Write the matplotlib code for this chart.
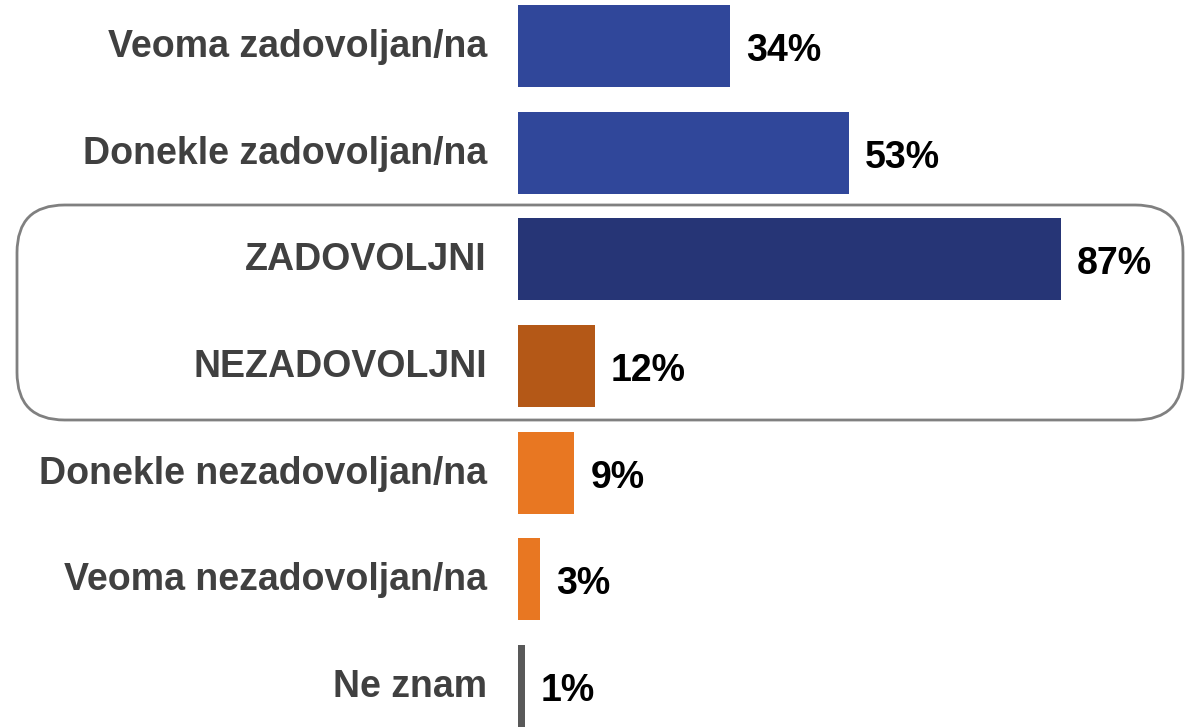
import matplotlib
matplotlib.use("Agg")
import matplotlib.pyplot as plt
from matplotlib.patches import FancyBboxPatch

categories = ["Veoma zadovoljan/na", "Donekle zadovoljan/na", "ZADOVOLJNI",
              "NEZADOVOLJNI", "Donekle nezadovoljan/na", "Veoma nezadovoljan/na", "Ne znam"]
values = [34, 53, 87, 12.3, 9, 3.5, 1.1]
value_labels = ["34%", "53%", "87%", "12%", "9%", "3%", "1%"]
colors = ["#30479A", "#30479A", "#263576", "#B45817", "#E87722", "#E87722", "#595959"]

W, H = 1191, 727
fig = plt.figure(figsize=(W / 100, H / 100), dpi=100)
left_px, right_px = 518, 1142
row_px = 106.67
ax = fig.add_axes([left_px / W, 0, (right_px - left_px) / W, 1])
ax.set_xlim(0, 100)
ax.set_ylim(6 + (727 - 686) / row_px, -46 / row_px)
ax.axis("off")

font = "Liberation Sans"
ypos = list(range(len(categories)))
ax.barh(ypos, values, height=0.77, color=colors)

cat_off = 11 / row_px
val_off = 15 / row_px
for y, v, lab, c in zip(ypos, values, value_labels, categories):
    ax.text(v + 2.6, y + val_off, lab, va="baseline", ha="left", fontsize=27,
            fontweight="bold", color="black", family=font)
    ax.text(-5.0, y + cat_off, c, va="baseline", ha="right", fontsize=27,
            fontweight="bold", color="#404040", family=font)

# rounded highlight box (figure pixel coords)
box = FancyBboxPatch((17 / W, 1 - 420 / H), (1183 - 17) / W, (420 - 205) / H,
                     boxstyle="round,pad=0,rounding_size=0.04",
                     transform=fig.transFigure, fill=False,
                     edgecolor="#808080", linewidth=2, mutation_aspect=W / H)
fig.patches.append(box)

fig.savefig("out.png", dpi=100)
